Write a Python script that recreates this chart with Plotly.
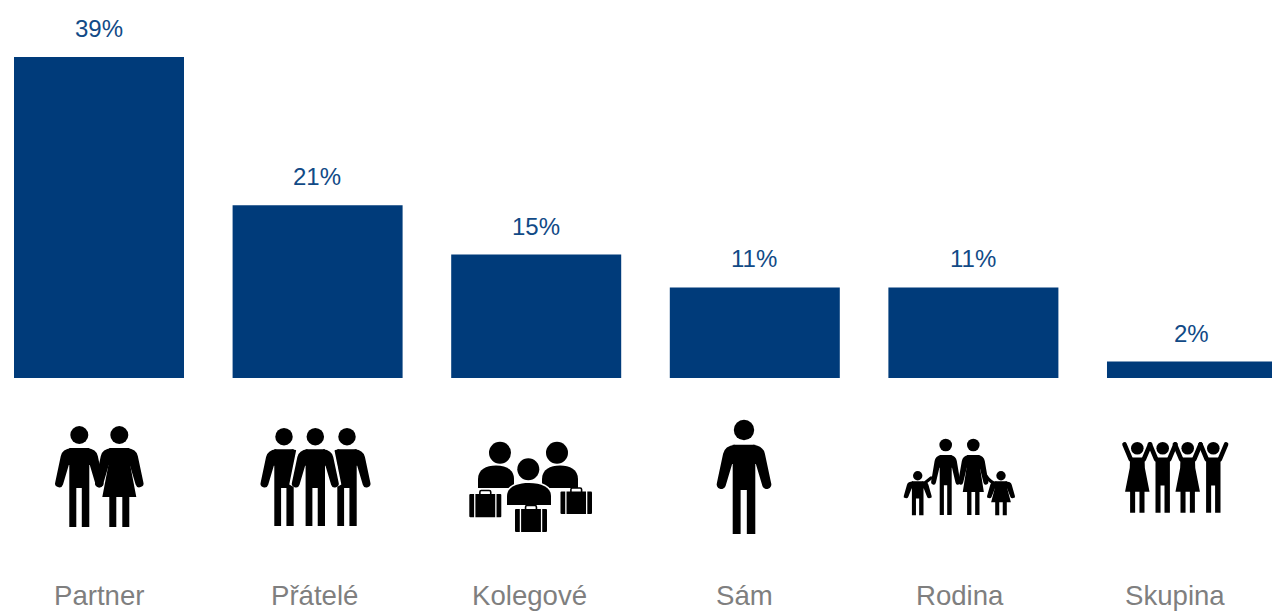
import base64
import plotly.graph_objects as go

categories = ["Partner", "Přátelé", "Kolegové", "Sám", "Rodina", "Skupina"]
shares = [39, 21, 15, 11, 11, 2]
value_labels = ["39%", "21%", "15%", "11%", "11%", "2%"]

W, H = 1272, 615
BAR = "#003B7A"
GREY = "#7F7F7F"

# --- decorative pictograms (local units: origin at the head centre) ---
ARM_L = "M-8,13 Q-17,14 -18.5,21 L-24,47 A4,4 0 0 0 -16.3,49.5 L-10.5,30 L-8,30 Z"
ARM_R = "M8,13 Q17,14 18.5,21 L24,47 A4,4 0 0 1 16.3,49.5 L10.5,30 L8,30 Z"
MAN_BODY = "M-10,13 L10,13 L10,92 L2.5,92 L2.5,53 L-3,53 L-3,92 L-10,92 Z"
WOMAN_BODY = ("M-10,13 L10,13 L10.5,28 L17,62 L10,62 L10,92 L3,92 L3,62 L-3,62 L-3,92 "
              "L-10,92 L-10,62 L-17,62 L-10.5,28 Z")
HALO = "M-19,14 L-26,49 L-17,54 L-10,94 L10,94 L17,54 L26,49 L19,14 Z"


def person(x, y, s, body, arms=True, halo=False, sx=None, r=None):
    sx = s if sx is None else sx
    r = 9 * s if r is None else r
    parts = ""
    if halo:
        parts += f'<path d="{HALO}" fill="#fff" stroke="#fff" stroke-width="1.5"/>'
    parts += f'<path d="{body}" fill="#000"/>'
    if arms:
        parts += f'<path d="{ARM_L}" fill="#000"/><path d="{ARM_R}" fill="#000"/>'
    return (f'<g transform="translate({x},{y})">'
            f'<g transform="scale({sx},{s})">{parts}</g>'
            f'<circle r="{r}" fill="#000"/></g>')


def bust(cx, top, half, bottom, halo=False):
    d = (f"M{cx - half},{bottom} L{cx - half},{bottom - 9} "
         f"C{cx - half},{top + 4} {cx - half * 0.55},{top} {cx},{top} "
         f"C{cx + half * 0.55},{top} {cx + half},{top + 4} {cx + half},{bottom - 9} L{cx + half},{bottom} Z")
    extra = ' stroke="#fff" stroke-width="3" paint-order="stroke"' if halo else ""
    return f'<path d="{d}" fill="#000"{extra}/>'


def head(cx, cy, r, halo=False):
    extra = ' stroke="#fff" stroke-width="3" paint-order="stroke"' if halo else ""
    return f'<circle cx="{cx}" cy="{cy}" r="{r}" fill="#000"{extra}/>'


def suitcase(x, y, w, h):
    return (f'<rect x="{x + w * 0.33}" y="{y - 3.5}" width="{w * 0.34}" height="6" rx="1.5" '
            f'fill="none" stroke="#000" stroke-width="1.6"/>'
            f'<rect x="{x}" y="{y}" width="{w}" height="{h}" rx="1" fill="#000"/>'
            f'<rect x="{x + w * 0.15}" y="{y - 1}" width="1.3" height="{h + 2}" fill="#fff"/>'
            f'<rect x="{x + w * 0.81}" y="{y - 1}" width="1.3" height="{h + 2}" fill="#fff"/>')


def raised(cx, cy, body):
    arms = (f'<path d="M{cx - 6.5},{cy + 11} L{cx - 12.8},{cy - 4} M{cx + 6.5},{cy + 11} L{cx + 12.8},{cy - 4}" '
            f'stroke="#000" stroke-width="4.6" stroke-linecap="round" fill="none"/>')
    return arms + person(cx, cy, 0.7, body, arms=False, sx=0.72)


icons = []
# Partner
icons += [person(79.3, 435, 1, MAN_BODY), person(119.3, 435, 1, WOMAN_BODY)]
# Přátelé
icons += [person(284, 436.7, 0.97, MAN_BODY), person(347, 436.7, 0.97, MAN_BODY),
          person(315.3, 436.7, 0.97, MAN_BODY, halo=True)]
# Kolegové
icons += [head(500, 452.7, 11), head(557, 452.7, 11),
          bust(496, 465.5, 18, 488), bust(560, 465.5, 18, 488),
          bust(529, 483, 22, 505, halo=True), head(528.3, 469.3, 11, halo=True),
          suitcase(469.3, 494, 32, 23.3), suitcase(515, 509, 32, 23),
          suitcase(560.5, 491.5, 31.5, 22.5)]
# Sám
icons += [person(744, 430, 1.13, MAN_BODY)]
# Rodina
link = ('<path d="M931,478 L921,486 M986,476 Q990,482 996,484" stroke="#000" stroke-width="3.2" '
        'stroke-linecap="round" fill="none"/>')
icons += [link, person(945.7, 445, 0.76, MAN_BODY, sx=0.6, r=6.3),
          person(973.3, 445, 0.76, WOMAN_BODY, sx=0.62, r=6.3),
          person(917.7, 475.7, 0.43, MAN_BODY, sx=0.58, r=4.7),
          person(1001, 475.7, 0.43, WOMAN_BODY, sx=0.58, r=4.7)]
# Skupina
for hx, body in [(1137.3, WOMAN_BODY), (1162.7, MAN_BODY), (1187.7, WOMAN_BODY), (1213.3, MAN_BODY)]:
    icons.append(raised(hx, 448.3, body))

svg = (f'<svg xmlns="http://www.w3.org/2000/svg" width="{W}" height="{H}" '
       f'viewBox="0 0 {W} {H}">' + "".join(icons) + "</svg>")
src = "data:image/svg+xml;base64," + base64.b64encode(svg.encode()).decode()

# --- chart ---
fig = go.Figure(go.Bar(x=categories, y=shares, width=0.7777, marker=dict(color=BAR, line_width=0),
                       hoverinfo="skip"))

for c, v, t in zip(categories, shares, value_labels):
    fig.add_annotation(x=c, y=v, text=t, showarrow=False, xref="x", yref="y", yanchor="bottom",
                       yshift=13, xshift=-0.5, font=dict(size=24, color="#114A86", family="Liberation Sans"))

label_px = [99.5, 314.5, 529.5, 744.5, 959.5, 1174.5]
for c, px in zip(categories, label_px):
    fig.add_annotation(x=px / W, y=1 - 595.5 / H, text=c, showarrow=False, xref="paper", yref="paper",
                       xanchor="center", yanchor="middle",
                       font=dict(size=27.6, color=GREY, family="Liberation Sans"))

fig.update_layout(
    width=W, height=H, margin=dict(l=0, r=0, t=0, b=0), showlegend=False,
    paper_bgcolor="white", plot_bgcolor="white",
    xaxis=dict(visible=False, type="category", categoryorder="array", categoryarray=categories,
               range=[-0.4529, 5.366]),
    yaxis=dict(visible=False, range=[-28.8, 45.93]),
    images=[dict(source=src, xref="paper", yref="paper", x=0, y=1, sizex=1, sizey=1,
                 xanchor="left", yanchor="top", sizing="stretch", layer="above")],
)

fig.write_html("out.html", config=dict(displayModeBar=False),
               post_script="document.body.style.margin='0';document.body.style.overflow='hidden';")
